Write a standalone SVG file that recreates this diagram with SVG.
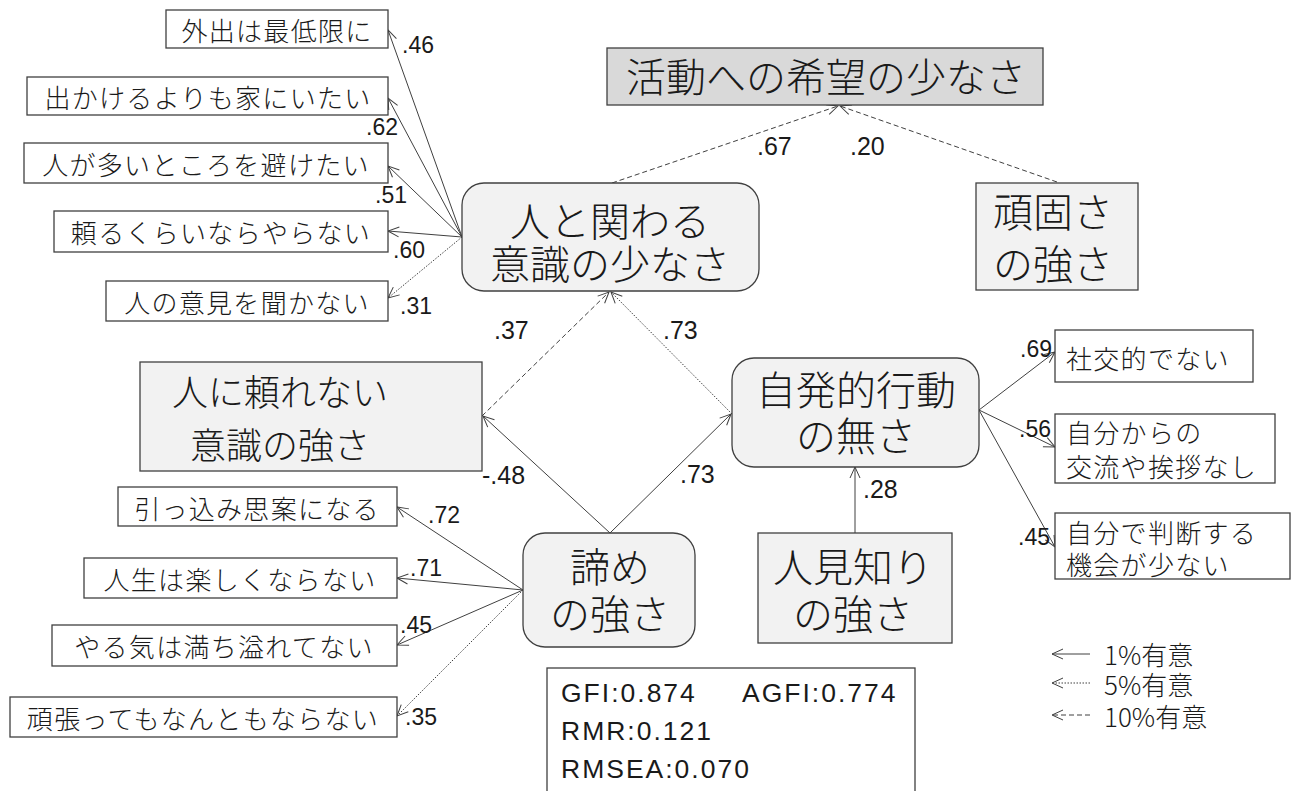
<svg xmlns="http://www.w3.org/2000/svg" width="1293" height="791" viewBox="0 0 1293 791">
<style>
.ind{fill:#ffffff;stroke:#404040;stroke-width:1.3}
.lat{fill:#f2f2f2;stroke:#404040;stroke-width:1.3}
.dep{fill:#d9d9d9;stroke:#404040;stroke-width:1.3}
.jt{font-family:"Noto Sans CJK JP","Noto Sans CJK SC",sans-serif;font-weight:300;fill:#1a1a1a;dominant-baseline:central}
.it{font-size:26px;letter-spacing:1.3px}
.bt{font-size:40px}
.num{font-family:"Liberation Sans",Arial,sans-serif;font-size:23px;fill:#1a1a1a}
.pn{font-size:25px}
.st{font-family:"Liberation Sans",Arial,sans-serif;font-size:26.5px;letter-spacing:2px;fill:#1a1a1a}
.c{fill:none;stroke:#404040;stroke-width:1;marker-end:url(#ah)}
.p5{stroke-dasharray:1.5 1.5}
.p10{stroke-dasharray:5 3}
</style>
<defs>
<marker id="ah" viewBox="-13 -7 15 14" refX="0" refY="0" markerWidth="15" markerHeight="14" markerUnits="userSpaceOnUse" orient="auto">
<path d="M-11,-5 L0,0 L-11,5" fill="none" stroke="#404040" stroke-width="1"/>
</marker>
</defs>

<g id="connectors">
<line class="c" x1="462" y1="237" x2="388" y2="30"/>
<line class="c" x1="462" y1="237" x2="388" y2="98"/>
<line class="c" x1="462" y1="237" x2="388" y2="166"/>
<line class="c" x1="462" y1="237" x2="388" y2="231"/>
<line class="c p5" x1="462" y1="237" x2="388" y2="298"/>
<line class="c p10" x1="612" y1="183" x2="838" y2="106"/>
<line class="c p10" x1="1057" y1="182" x2="840" y2="106"/>
<line class="c p10" x1="482" y1="416" x2="609" y2="292"/>
<line class="c p5" x1="732" y1="414" x2="611" y2="292"/>
<line class="c" x1="610" y1="533" x2="483" y2="416"/>
<line class="c" x1="610" y1="533" x2="731" y2="414"/>
<line class="c" x1="855" y1="533" x2="855" y2="467"/>
<line class="c" x1="979" y1="410" x2="1055" y2="352"/>
<line class="c" x1="979" y1="410" x2="1055" y2="447"/>
<line class="c" x1="979" y1="410" x2="1055" y2="547"/>
<line class="c" x1="523" y1="590" x2="397" y2="507"/>
<line class="c" x1="523" y1="590" x2="397" y2="578"/>
<line class="c" x1="523" y1="590" x2="397" y2="645"/>
<line class="c p5" x1="523" y1="590" x2="397" y2="716"/>
</g>

<g id="loadings">
<text class="num" x="402" y="53">.46</text>
<text class="num" x="366" y="135">.62</text>
<text class="num" x="375" y="203">.51</text>
<text class="num" x="393" y="258">.60</text>
<text class="num" x="400" y="314">.31</text>
<text class="num pn" x="757" y="155">.67</text>
<text class="num pn" x="850" y="155">.20</text>
<text class="num pn" x="494" y="339">.37</text>
<text class="num pn" x="663" y="339">.73</text>
<text class="num pn" x="482" y="484">-.48</text>
<text class="num pn" x="680" y="483">.73</text>
<text class="num pn" x="863" y="498">.28</text>
<text class="num" x="1020" y="357">.69</text>
<text class="num" x="1019" y="437">.56</text>
<text class="num" x="1018" y="545">.45</text>
<text class="num" x="428" y="523">.72</text>
<text class="num" x="410" y="576">.71</text>
<text class="num" x="400" y="633">.45</text>
<text class="num" x="405" y="725">.35</text>
</g>

<g id="n-gaishutsu"><rect class="ind" x="166" y="10" width="222" height="38"/><text class="jt it" x="277" y="29" text-anchor="middle">外出は最低限に</text></g>
<g id="n-dekakeru"><rect class="ind" x="27" y="77" width="361" height="38"/><text class="jt it" x="208" y="96" text-anchor="middle">出かけるよりも家にいたい</text></g>
<g id="n-hitogaooi"><rect class="ind" x="24" y="143" width="364" height="40"/><text class="jt it" x="206" y="163" text-anchor="middle">人が多いところを避けたい</text></g>
<g id="n-tayoru"><rect class="ind" x="54" y="211" width="334" height="41"/><text class="jt it" x="221" y="231" text-anchor="middle">頼るくらいならやらない</text></g>
<g id="n-iken"><rect class="ind" x="106" y="281" width="282" height="40"/><text class="jt it" x="247" y="301" text-anchor="middle">人の意見を聞かない</text></g>

<g id="n-katsudou"><rect class="dep" x="607" y="48" width="436" height="57"/><text class="jt bt" x="826" y="75" text-anchor="middle">活動への希望の少なさ</text></g>
<g id="n-hitotokakawaru"><rect class="lat" x="462" y="183" width="297" height="108" rx="22"/><text class="jt bt" text-anchor="middle"><tspan x="610" y="219">人と関わる</tspan><tspan x="610" y="262">意識の少なさ</tspan></text></g>
<g id="n-ganko"><rect class="lat" x="976" y="183" width="162" height="107"/><text class="jt bt" text-anchor="middle"><tspan x="1053" y="210">頑固さ</tspan><tspan x="1053" y="262">の強さ</tspan></text></g>
<g id="n-tayorenai"><rect class="lat" x="140" y="362" width="342" height="109"/><text class="jt bt" style="font-size:36px" text-anchor="middle"><tspan x="280" y="390">人に頼れない</tspan><tspan x="280" y="443">意識の強さ</tspan></text></g>
<g id="n-jihatsu"><rect class="lat" x="732" y="358" width="247" height="109" rx="22"/><text class="jt bt" text-anchor="middle"><tspan x="856" y="388">自発的行動</tspan><tspan x="856" y="434">の無さ</tspan></text></g>

<g id="n-shakouteki"><rect class="ind" x="1055" y="330" width="198" height="52"/><text class="jt it" x="1066" y="357">社交的でない</text></g>
<g id="n-kouryu"><rect class="ind" x="1055" y="414" width="220" height="69"/><text class="jt it"><tspan x="1066" y="431">自分からの</tspan><tspan x="1066" y="465">交流や挨拶なし</tspan></text></g>
<g id="n-handan"><rect class="ind" x="1055" y="513" width="235" height="66"/><text class="jt it"><tspan x="1066" y="531">自分で判断する</tspan><tspan x="1066" y="563">機会が少ない</tspan></text></g>

<g id="n-hikkomi"><rect class="ind" x="118" y="487" width="279" height="39"/><text class="jt it" x="257" y="507" text-anchor="middle">引っ込み思案になる</text></g>
<g id="n-jinsei"><rect class="ind" x="84" y="558" width="313" height="40"/><text class="jt it" x="240" y="578" text-anchor="middle">人生は楽しくならない</text></g>
<g id="n-yaruki"><rect class="ind" x="52" y="625" width="345" height="41"/><text class="jt it" x="224" y="645" text-anchor="middle">やる気は満ち溢れてない</text></g>
<g id="n-ganbatte"><rect class="ind" x="10" y="697" width="387" height="40"/><text class="jt it" x="203" y="717" text-anchor="middle">頑張ってもなんともならない</text></g>

<g id="n-akirame"><rect class="lat" x="523" y="533" width="172" height="114" rx="22"/><text class="jt bt" text-anchor="middle"><tspan x="610" y="565">諦め</tspan><tspan x="610" y="612">の強さ</tspan></text></g>
<g id="n-hitomishiri"><rect class="lat" x="758" y="533" width="194" height="110"/><text class="jt bt" text-anchor="middle"><tspan x="853" y="565">人見知り</tspan><tspan x="853" y="612">の強さ</tspan></text></g>

<g id="fit-stats"><rect class="ind" x="547" y="668" width="368" height="140"/>
<text class="st"><tspan x="561" y="702">GFI:0.874</tspan><tspan x="742" y="702">AGFI:0.774</tspan><tspan x="561" y="740">RMR:0.121</tspan><tspan x="561" y="778">RMSEA:0.070</tspan></text></g>

<g id="legend">
<line class="c" x1="1090" y1="654" x2="1052" y2="654"/>
<line class="c p5" x1="1090" y1="683" x2="1052" y2="683"/>
<line class="c p10" x1="1090" y1="715" x2="1052" y2="715"/>
<text class="jt" style="font-size:26px"><tspan x="1104" y="653">1%有意</tspan><tspan x="1104" y="683">5%有意</tspan><tspan x="1104" y="715">10%有意</tspan></text>
</g>
</svg>
